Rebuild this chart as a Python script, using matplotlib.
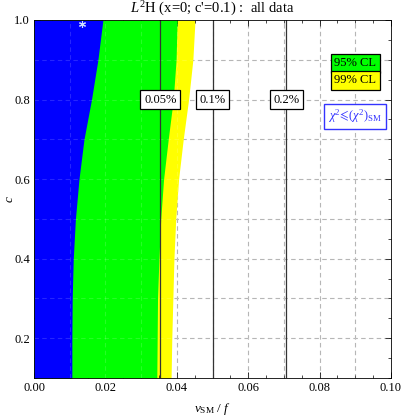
import numpy as np
import matplotlib.pyplot as plt
from matplotlib.ticker import MultipleLocator

plt.rcParams['font.family'] = ['Liberation Serif', 'DejaVu Serif']
plt.rcParams['mathtext.fontset'] = 'custom'
plt.rcParams['mathtext.rm'] = 'Liberation Serif'
plt.rcParams['mathtext.it'] = 'Liberation Serif:italic'

# data
c = [0.1, 0.2, 0.3, 0.4, 0.5, 0.6, 0.7, 0.8, 0.9, 1.0]
blue_edge = [0.0106, 0.0106, 0.0107, 0.0110, 0.0116, 0.0126, 0.0140, 0.0161, 0.0179, 0.0193]
green_edge = [0.0344, 0.0345, 0.0346, 0.0350, 0.0355, 0.0363, 0.0376, 0.0390, 0.0398, 0.0401]
yellow_edge = [0.0384, 0.0386, 0.0389, 0.0392, 0.0397, 0.0405, 0.0418, 0.0433, 0.0445, 0.0451]

xi_pos = [0.0354, 0.05, 0.0707]
xi_labels = ['0.05%', '0.1%', '0.2%']
best_fit = (0.0134, 0.990)

fig = plt.figure(figsize=(4.01, 4.18), dpi=100)
ax = fig.add_axes([34/401, 40/418, 357/401, 358/418])

ax.fill_betweenx(c, 0, yellow_edge, color='#ffff00', lw=0, zorder=1)
ax.fill_betweenx(c, 0, green_edge, color='#00ff00', lw=0, zorder=2)
ax.fill_betweenx(c, 0, blue_edge, color='#0000ff', lw=0, zorder=3)
ax.plot(best_fit[0], best_fit[1], marker=(6, 2, 0), ms=5, mew=0.8,
        color='#ccddff', zorder=6)

# grid: gray dashes under the fill, faint light lines through it
for gx in np.arange(0.01, 0.1, 0.01):
    ax.axvline(gx, color='#aaaaaa', ls=(0, (4, 3)), lw=0.8, zorder=0.5)
    ax.axvline(gx, color='white', ls=(0, (4, 3)), lw=0.8, alpha=0.15, zorder=4)
for gy in np.arange(0.2, 1.0, 0.1):
    ax.axhline(gy, color='#aaaaaa', ls=(0, (4, 3)), lw=0.8, zorder=0.5)
    ax.axhline(gy, color='white', ls=(0, (4, 3)), lw=0.8, alpha=0.15, zorder=4)

# xi contours
for xp, lab in zip(xi_pos, xi_labels):
    ax.axvline(xp, color='#333333', lw=0.9, zorder=5)
    ax.text(xp, 0.8, lab, ha='center', va='center', fontsize=9, zorder=7,
            bbox=dict(boxstyle='square,pad=0.3', fc='white', ec='black', lw=0.9))

# legend boxes
ax.text(0.0900, 0.891, '95% CL', ha='center', va='center', fontsize=9, zorder=7,
        bbox=dict(boxstyle='square,pad=0.28', fc='#00ff00', ec='black', lw=0.9))
ax.text(0.0900, 0.849, '99% CL', ha='center', va='center', fontsize=9, zorder=7,
        bbox=dict(boxstyle='square,pad=0.28', fc='#ffff00', ec='black', lw=0.9))
ax.text(0.0900, 0.757, r'$\chi^2\!\leqslant\!(\chi^2)_{\rm SM}$', ha='center', va='center',
        fontsize=9, color='#3333ff', zorder=7,
        bbox=dict(boxstyle='square,pad=0.3', fc='white', ec='#3333ff', lw=1.0))

ax.set_xlim(0, 0.1)
ax.set_ylim(0.1, 1.0)
ax.xaxis.set_major_locator(MultipleLocator(0.02))
ax.xaxis.set_minor_locator(MultipleLocator(0.005))
ax.yaxis.set_major_locator(MultipleLocator(0.2))
ax.yaxis.set_minor_locator(MultipleLocator(0.05))
ax.xaxis.set_major_formatter(plt.FormatStrFormatter('%.2f'))
ax.yaxis.set_major_formatter(plt.FormatStrFormatter('%.1f'))
ax.tick_params(which='both', direction='in', top=True, right=True, labelsize=9)
ax.tick_params(which='major', length=4, width=0.6, pad=3)
ax.tick_params(which='minor', length=2, width=0.5)
for s in ax.spines.values():
    s.set_linewidth(0.6)
    s.set_zorder(8)

ax.set_xlabel(r'$v_{\rm SM}\ /\ f$', fontsize=9.5, labelpad=5)
ax.set_ylabel(r'$c$', fontsize=9.5)
ax.yaxis.set_label_coords(-0.05, 0.5)
ax.set_title(r"$L^2$H (x=0; c'=0.1) :  all data", fontsize=10.5, pad=5)

fig.savefig('out.png', dpi=100)
